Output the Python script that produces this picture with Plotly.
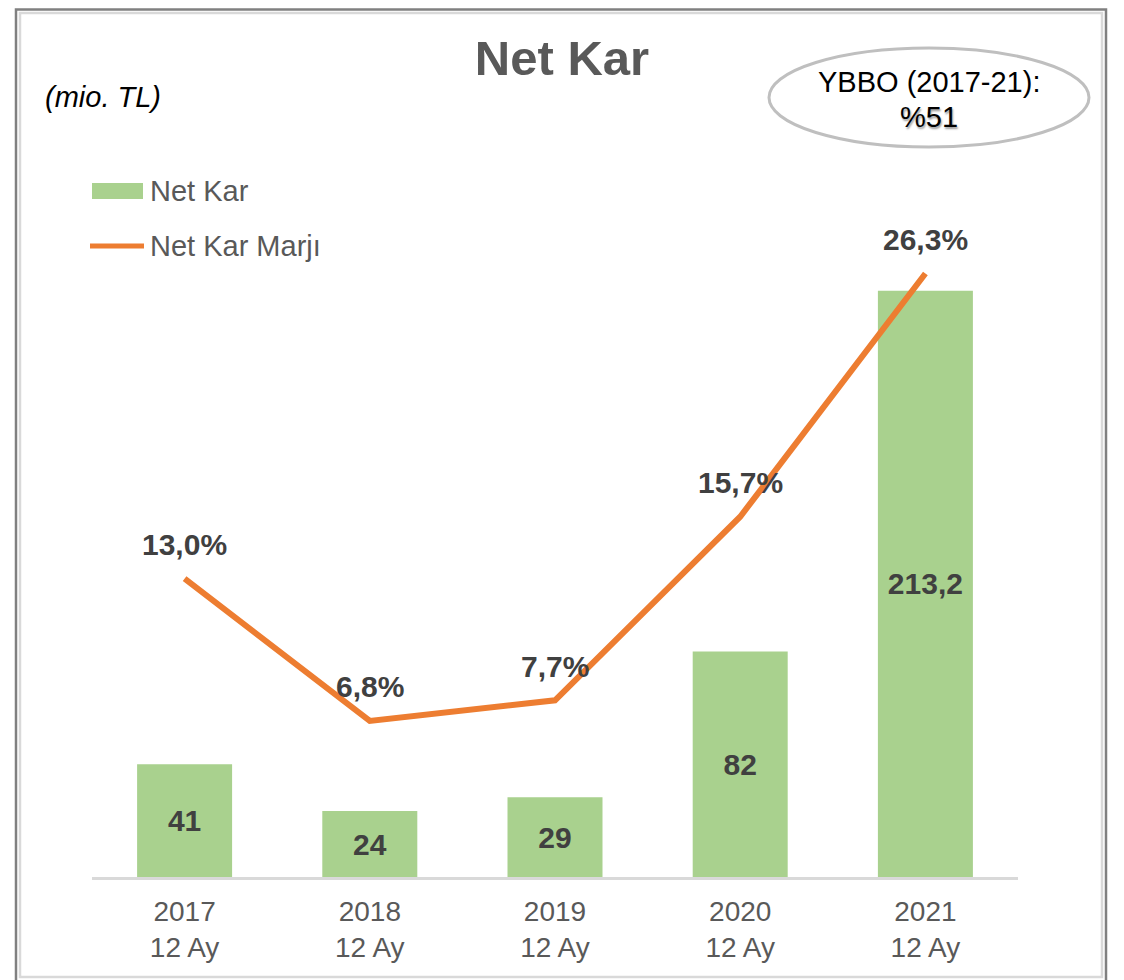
import plotly.graph_objects as go

# ---- data ----
years = ["2017", "2018", "2019", "2020", "2021"]
period_labels = ["12 Ay", "12 Ay", "12 Ay", "12 Ay", "12 Ay"]
net_kar = [41, 24, 29, 82, 213.2]
net_kar_marji = [13.0, 6.8, 7.7, 15.7, 26.3]
cagr_label = "YBBO (2017-21):"
cagr_value = "%51"

W, H = 1124, 980
OFF = 8  # page body margin in the screenshot
L, R, T, B = 92, 1018, 150, 877  # plot area in screenshot pixels

def px(x):
    return (x - L) / (R - L)

def py(y):
    return (B - y) / (B - T)

FONT = "Arial, 'Liberation Sans', sans-serif"
GREEN = "#A9D18E"
ORANGE = "#ED7D31"
DARK = "#404040"
GREY = "#595959"

categories = [f"{y}<br>{p}" for y, p in zip(years, period_labels)]
bar_text = [f"{v:g}".replace(".", ",") for v in net_kar]
line_text = [f"{v:.1f}%".replace(".", ",") for v in net_kar_marji]

fig = go.Figure()
fig.add_trace(go.Bar(
    x=categories, y=net_kar, name="Net Kar", marker=dict(color=GREEN, line=dict(width=0)),
    text=bar_text, textposition="inside", insidetextanchor="middle",
    textfont=dict(family=FONT, size=30, color=DARK, weight="bold"),
    textangle=0, cliponaxis=False, yaxis="y",
))
fig.add_trace(go.Scatter(
    x=categories, y=net_kar_marji, name="Net Kar Marjı", mode="lines",
    line=dict(color=ORANGE, width=6), yaxis="y2", cliponaxis=False,
))

annotations = []
for c, v, t in zip(categories, net_kar_marji, line_text):
    annotations.append(dict(
        x=c, y=v, xref="x", yref="y2", text=t, showarrow=False,
        yshift=34, yanchor="middle",
        font=dict(family=FONT, size=30, color=DARK, weight="bold"),
    ))
# unit label
annotations.append(dict(
    x=px(43), y=py(97), xref="paper", yref="paper", text="<i>(mio. TL)</i>",
    showarrow=False, xanchor="left", yanchor="middle",
    font=dict(family=FONT, size=29, color="#000000"),
))
# CAGR ellipse text
annotations.append(dict(
    x=px(929), y=py(82), xref="paper", yref="paper", text=cagr_label,
    showarrow=False, xanchor="center", yanchor="middle",
    font=dict(family=FONT, size=29, color="#000000"),
))
annotations.append(dict(
    x=px(929), y=py(117), xref="paper", yref="paper", text=cagr_value,
    showarrow=False, xanchor="center", yanchor="middle",
    font=dict(family=FONT, size=29, color="#000000", shadow="1px 2px 2px #9a9a9a"),
))
# legend texts
annotations.append(dict(
    x=px(148), y=py(191), xref="paper", yref="paper", text="Net Kar",
    showarrow=False, xanchor="left", yanchor="middle",
    font=dict(family=FONT, size=29, color=GREY),
))
annotations.append(dict(
    x=px(148), y=py(246), xref="paper", yref="paper", text="Net Kar Marjı",
    showarrow=False, xanchor="left", yanchor="middle",
    font=dict(family=FONT, size=29, color=GREY),
))

shapes = [
    # outer frame
    dict(type="rect", xref="paper", yref="paper", x0=px(16), x1=px(1106), y0=py(9.5), y1=py(990),
         line=dict(color="#808080", width=2.5), layer="below"),
    dict(type="rect", xref="paper", yref="paper", x0=px(20), x1=px(1102), y0=py(13), y1=py(977),
         line=dict(color="#d9d9d9", width=2.5), layer="below"),
    # ellipse
    dict(type="circle", xref="paper", yref="paper", x0=px(769), x1=px(1089), y0=py(48), y1=py(147),
         line=dict(color="#bfbfbf", width=3)),
    # legend glyphs
    dict(type="rect", xref="paper", yref="paper", x0=px(92), x1=px(143), y0=py(183), y1=py(199),
         fillcolor=GREEN, line=dict(width=0)),
    dict(type="line", xref="paper", yref="paper", x0=px(90), x1=px(144), y0=py(246), y1=py(246),
         line=dict(color=ORANGE, width=5)),
]

fig.update_layout(
    width=W, height=H,
    margin=dict(l=L - OFF, r=W - (R - OFF), t=T - OFF, b=H - (B - OFF), pad=0),
    paper_bgcolor="white", plot_bgcolor="white",
    showlegend=False,
    bargap=0.487,
    title=dict(text="<b>Net Kar</b>", x=(562 - OFF) / W, xref="container", xanchor="center",
               y=1 - (58 - OFF) / H, yref="container", yanchor="middle",
               font=dict(family=FONT, size=49, color=GREY)),
    xaxis=dict(
        type="category", categoryorder="array", categoryarray=categories,
        range=[-0.5, len(categories) - 0.5],
        showline=True, linecolor="#d9d9d9", linewidth=3, ticks="",
        ticklabelstandoff=7,
        showgrid=False, zeroline=False,
        tickfont=dict(family=FONT, size=28, color=GREY),
    ),
    yaxis=dict(range=[0, 264.4], visible=False, showgrid=False, zeroline=False),
    yaxis2=dict(range=[0, 31.68], overlaying="y", side="right", visible=False,
                showgrid=False, zeroline=False),
    annotations=annotations,
    shapes=shapes,
    font=dict(family=FONT),
)

fig.write_html("out.html")
